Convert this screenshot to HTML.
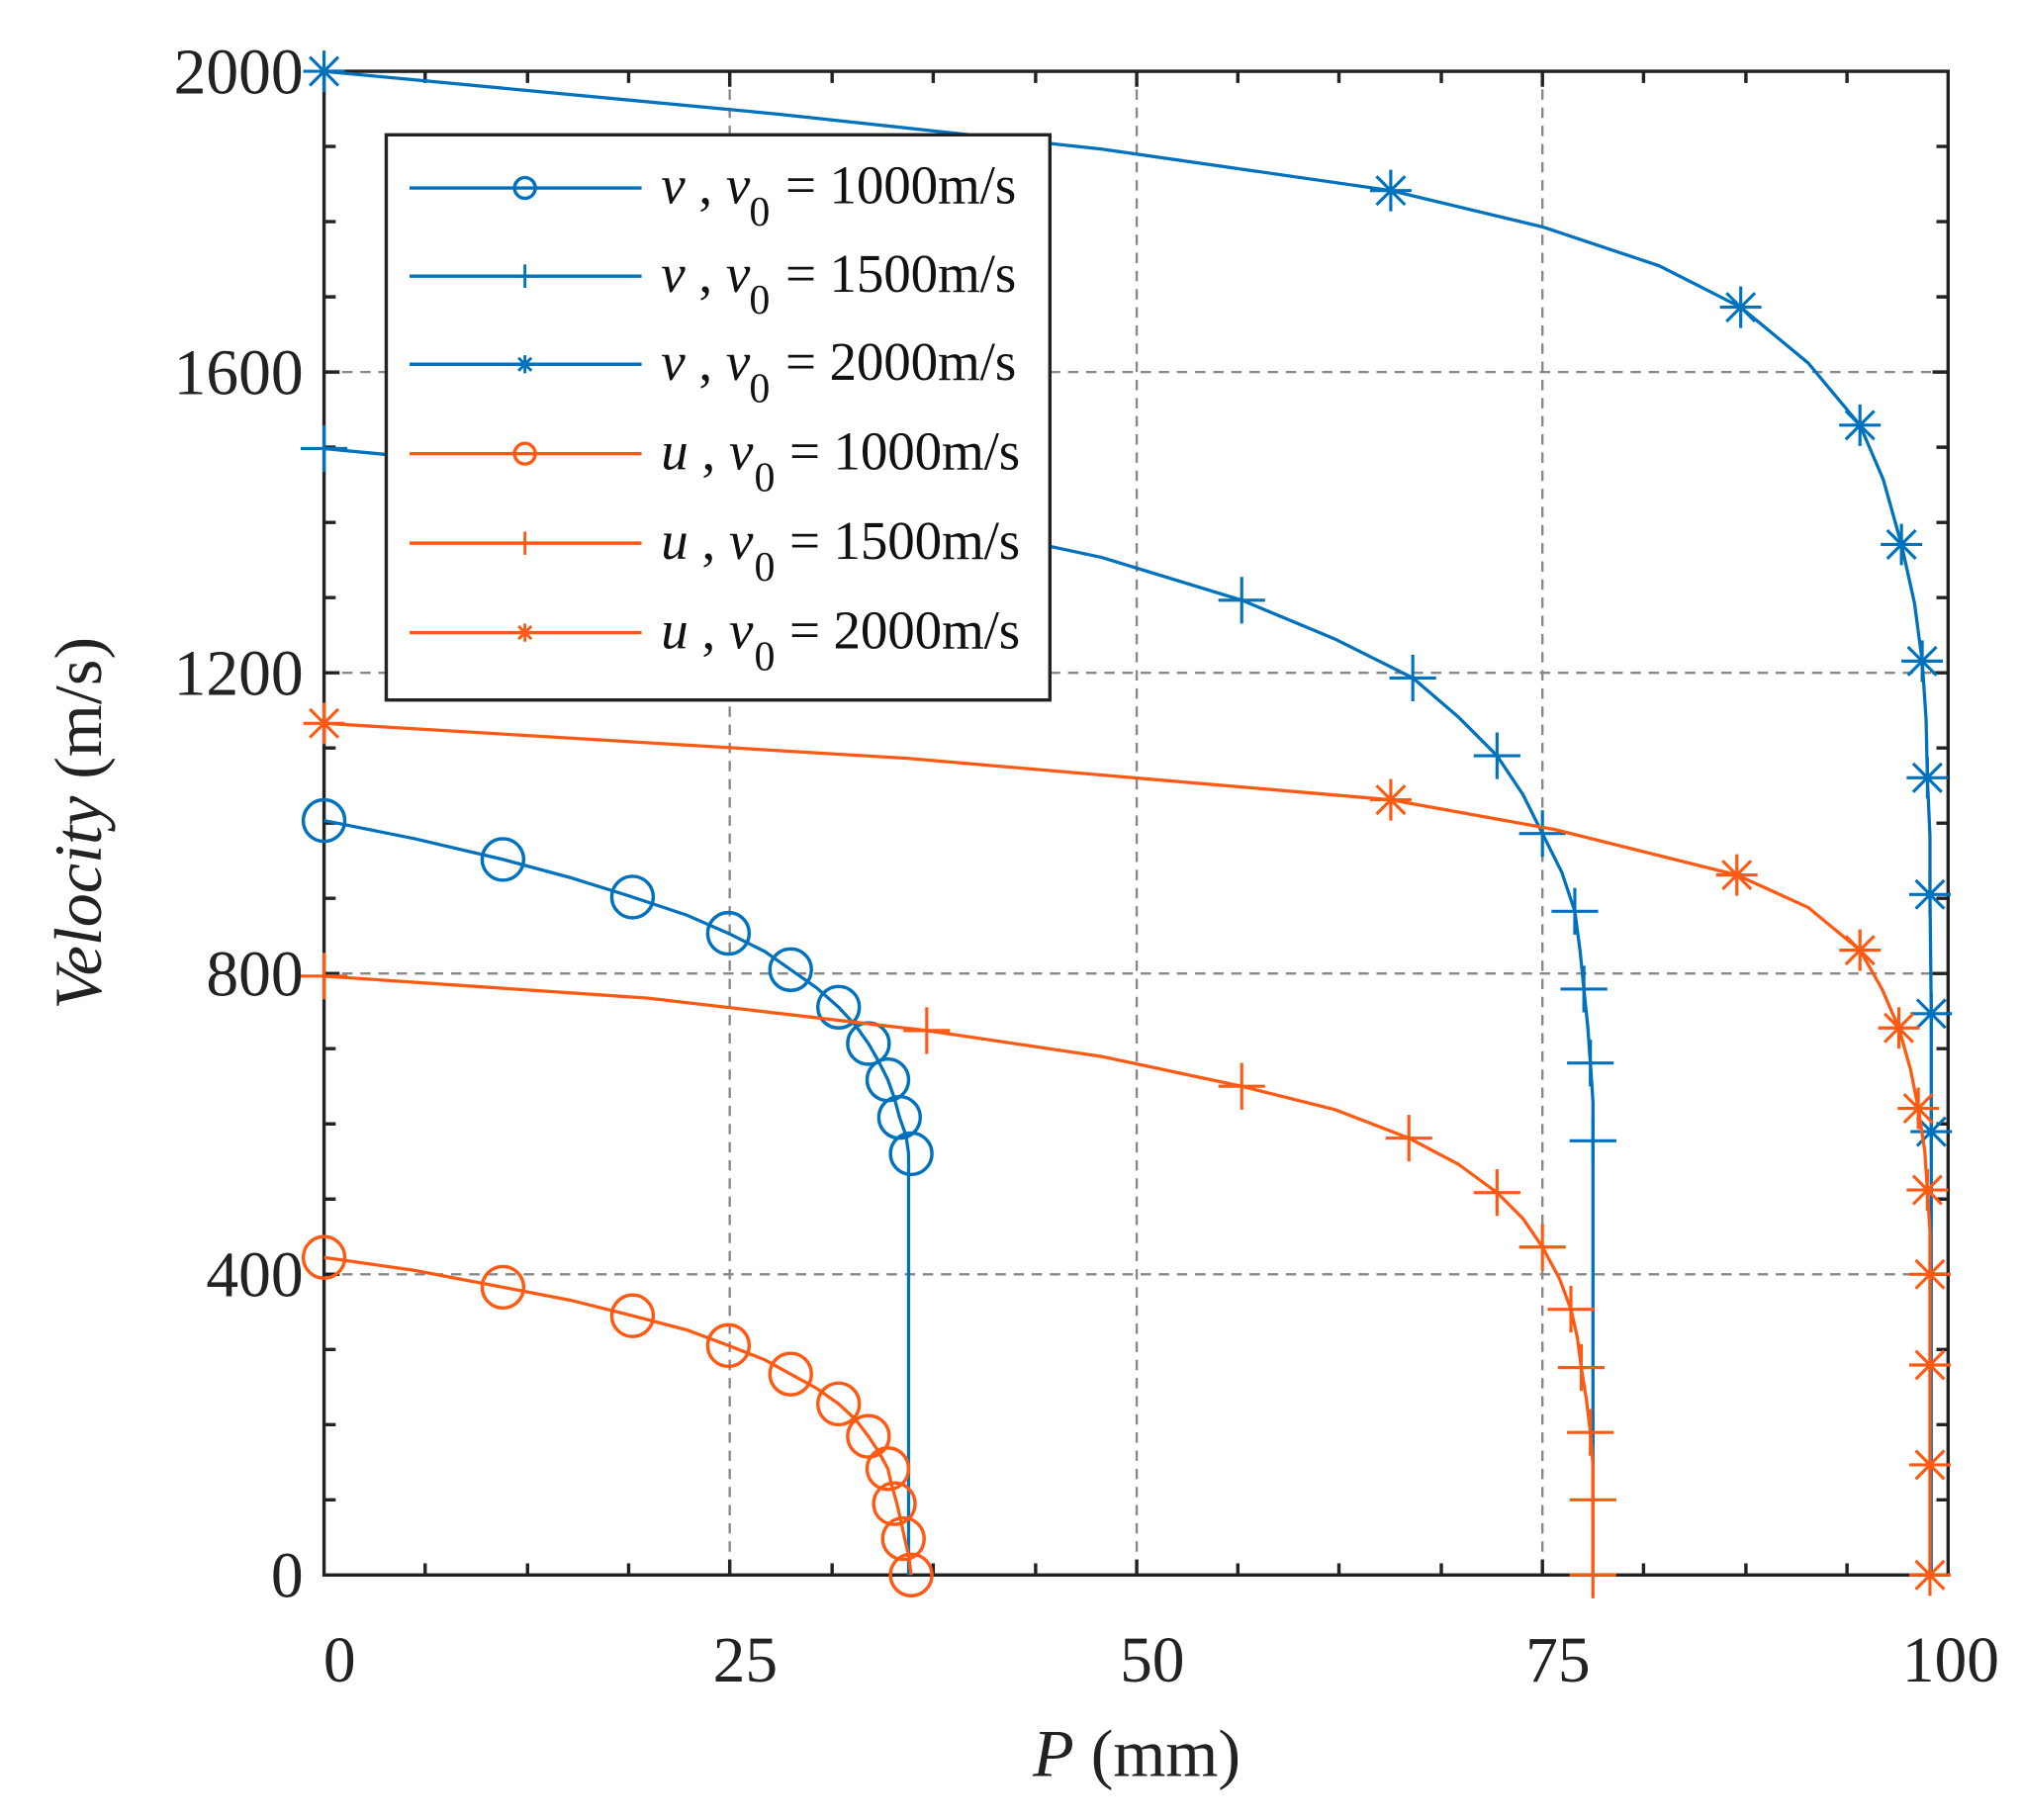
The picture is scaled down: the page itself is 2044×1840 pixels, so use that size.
<!DOCTYPE html>
<html><head><meta charset="utf-8"><style>html,body{margin:0;padding:0;background:#fff}svg{display:block}</style></head>
<body>
<svg width="2044" height="1840" viewBox="0 0 1560 1404" preserveAspectRatio="none" xmlns="http://www.w3.org/2000/svg" font-family="Liberation Serif, serif">
<defs>
<g id="ast"><path d="M-16 0H16M0-16V16M-11-11L11 11M-11 11L11-11" stroke-width="2.4"/></g>
<g id="pl"><path d="M-18 0H18M0-18V18" stroke-width="2.4"/></g>
<g id="astS"><path d="M-7 0H7M0-7V7M-5-5L5 5M-5 5L5-5" stroke-width="2.2"/></g>
<g id="plS"><path d="M-8 0H8M0-9V9" stroke-width="2.2"/></g>
</defs>
<rect width="1560" height="1404" fill="#fff"/>
<g stroke="#888" stroke-width="1.8" stroke-dasharray="8,6">
<path d="M563 55V1215M877 55V1215M1190 55V1215M250 287H1503M250 519H1503M250 751H1503M250 983H1503"/>
</g>
<g stroke="#222" stroke-width="2.6" fill="none">
<rect x="250" y="55" width="1253" height="1160"/>
<path d="M328 1215v-9M407 1215v-9M485 1215v-9M563 1215v-12M642 1215v-9M720 1215v-9M799 1215v-9M877 1215v-12M955 1215v-9M1033 1215v-9M1112 1215v-9M1190 1215v-12M1268 1215v-9M1347 1215v-9M1425 1215v-9
M328 55v9M407 55v9M485 55v9M563 55v12M642 55v9M720 55v9M799 55v9M877 55v12M955 55v9M1033 55v9M1112 55v9M1190 55v12M1268 55v9M1347 55v9M1425 55v9"/>
<path d="M250 113h9M250 171h9M250 229h9M250 287h12M250 345h9M250 403h9M250 461h9M250 519h12M250 577h9M250 635h9M250 693h9M250 751h12M250 809h9M250 867h9M250 925h9M250 983h12M250 1041h9M250 1099h9M250 1157h9
M1503 113h-9M1503 171h-9M1503 229h-9M1503 287h-12M1503 345h-9M1503 403h-9M1503 461h-9M1503 519h-12M1503 577h-9M1503 635h-9M1503 693h-9M1503 751h-12M1503 809h-9M1503 867h-9M1503 925h-9M1503 983h-12M1503 1041h-9M1503 1099h-9M1503 1157h-9"/>
</g>
<g font-size="50" fill="#222" text-anchor="end">
<text x="234" y="72">2000</text><text x="234" y="304">1600</text><text x="234" y="536">1200</text><text x="234" y="768">800</text><text x="234" y="1000">400</text><text x="234" y="1232">0</text>
</g>
<g font-size="50" fill="#222" text-anchor="middle">
<text x="262" y="1297">0</text><text x="575" y="1297">25</text><text x="889" y="1297">50</text><text x="1202" y="1297">75</text><text x="1505" y="1297">100</text>
</g>
<text x="877" y="1370" font-size="52" fill="#222" text-anchor="middle"><tspan font-style="italic">P</tspan> (mm)</text>
<text transform="translate(78,635) rotate(-90)" font-size="52" fill="#222" text-anchor="middle"><tspan font-style="italic">Velocity</tspan> (m/s)</text>

<g stroke="#0072BD" fill="none" stroke-width="2.5">
<polyline points="250,633 320,647 388,663 440,677 488,692 530,706 562,720 590,734 610,748 630,762 647,777 660,791 670,805 678,819 685,833 690,847 694,862 699,876 701,890 701,1215"/>
<g stroke-width="2.6"><circle cx="250" cy="633" r="16"/><circle cx="388" cy="663" r="16"/><circle cx="488" cy="692" r="16"/><circle cx="562" cy="720" r="16"/><circle cx="610" cy="748" r="16"/><circle cx="647" cy="777" r="16"/><circle cx="670" cy="805" r="16"/><circle cx="685" cy="833" r="16"/><circle cx="694" cy="862" r="16"/><circle cx="703" cy="890" r="16"/></g>
</g>
<g stroke="#FF5A14" fill="none" stroke-width="2.5">
<polyline points="250,970 320,980 388,993 440,1003 488,1015 530,1026 562,1038 590,1049 610,1060 630,1071 647,1083 660,1095 670,1108 678,1120 685,1133 688,1146 692,1160 695,1173 698,1187 701,1200 703,1215"/>
<g stroke-width="2.6"><circle cx="250" cy="970" r="16"/><circle cx="388" cy="993" r="16"/><circle cx="488" cy="1015" r="16"/><circle cx="562" cy="1038" r="16"/><circle cx="610" cy="1060" r="16"/><circle cx="647" cy="1083" r="16"/><circle cx="670" cy="1108" r="16"/><circle cx="685" cy="1133" r="16"/><circle cx="690" cy="1160" r="16"/><circle cx="697" cy="1187" r="16"/><circle cx="703" cy="1215" r="16"/></g>
</g>
<g stroke="#0072BD" fill="none" stroke-width="2.5">
<polyline points="250,346 500,370 700,398 850,430 958,463 1030,493 1090,523 1125,553 1155,583 1175,613 1190,643 1205,673 1215,703 1219,733 1222,763 1225,792 1227,820 1229,850 1229,880 1229,1215"/>
<use href="#pl" x="250" y="346"/><use href="#pl" x="958" y="463"/><use href="#pl" x="1090" y="523"/><use href="#pl" x="1155" y="583"/><use href="#pl" x="1190" y="643"/><use href="#pl" x="1215" y="703"/><use href="#pl" x="1222" y="763"/><use href="#pl" x="1227" y="820"/><use href="#pl" x="1229" y="880"/>
</g>
<g stroke="#FF5A14" fill="none" stroke-width="2.5">
<polyline points="250,753 500,770 715,795 850,815 958,838 1030,856 1087,878 1125,898 1155,920 1175,940 1190,962 1203,986 1212,1010 1217,1032 1220,1055 1224,1080 1227,1105 1229,1130 1229,1157 1229,1215"/>
<use href="#pl" x="250" y="753"/><use href="#pl" x="715" y="795"/><use href="#pl" x="958" y="838"/><use href="#pl" x="1087" y="878"/><use href="#pl" x="1155" y="920"/><use href="#pl" x="1190" y="962"/><use href="#pl" x="1212" y="1010"/><use href="#pl" x="1220" y="1055"/><use href="#pl" x="1227" y="1105"/><use href="#pl" x="1229" y="1157"/><use href="#pl" x="1229" y="1215"/>
</g>
<g stroke="#0072BD" fill="none" stroke-width="2.5">
<polyline points="250,55 600,88 850,115 1073,147 1190,175 1280,205 1343,237 1395,280 1435,328 1453,370 1467,420 1477,465 1483,510 1486,555 1487,600 1489,645 1489,690 1490,782 1490,873 1490,1215"/>
<use href="#ast" x="250" y="55"/><use href="#ast" x="1073" y="147"/><use href="#ast" x="1343" y="237"/><use href="#ast" x="1435" y="328"/><use href="#ast" x="1467" y="420"/><use href="#ast" x="1483" y="510"/><use href="#ast" x="1487" y="600"/><use href="#ast" x="1489" y="690"/><use href="#ast" x="1490" y="782"/><use href="#ast" x="1490" y="873"/>
</g>
<g stroke="#FF5A14" fill="none" stroke-width="2.5">
<polyline points="250,558 700,585 1073,617 1200,640 1340,675 1395,700 1435,733 1452,763 1465,793 1474,825 1480,855 1485,888 1487,918 1489,950 1489,983 1489,1215"/>
<use href="#ast" x="250" y="558"/><use href="#ast" x="1073" y="617"/><use href="#ast" x="1340" y="675"/><use href="#ast" x="1435" y="733"/><use href="#ast" x="1465" y="793"/><use href="#ast" x="1480" y="855"/><use href="#ast" x="1487" y="918"/><use href="#ast" x="1489" y="983"/><use href="#ast" x="1489" y="1053"/><use href="#ast" x="1489" y="1130"/><use href="#ast" x="1489" y="1215"/>
</g>

<rect x="298" y="104" width="512" height="436" fill="#fff" stroke="#222" stroke-width="2.6"/>
<g fill="none" stroke-width="2.6">
<g stroke="#0072BD"><path d="M316 145H495"/><circle cx="405" cy="145" r="8"/></g>
<g stroke="#0072BD"><path d="M316 213H495"/><use href="#plS" x="405" y="213"/></g>
<g stroke="#0072BD"><path d="M316 281H495"/><use href="#astS" x="405" y="281"/></g>
<g stroke="#FF5A14"><path d="M316 350H495"/><circle cx="405" cy="350" r="8"/></g>
<g stroke="#FF5A14"><path d="M316 419H495"/><use href="#plS" x="405" y="419"/></g>
<g stroke="#FF5A14"><path d="M316 488H495"/><use href="#astS" x="405" y="488"/></g>
</g>
<g font-size="42" fill="#111">
<text x="510" y="157"><tspan font-style="italic">v</tspan> , <tspan font-style="italic">v</tspan></text><text x="578" y="174" font-size="32">0</text><text x="606" y="157" textLength="178">= 1000m/s</text>
<text x="510" y="225"><tspan font-style="italic">v</tspan> , <tspan font-style="italic">v</tspan></text><text x="578" y="242" font-size="32">0</text><text x="606" y="225" textLength="178">= 1500m/s</text>
<text x="510" y="293"><tspan font-style="italic">v</tspan> , <tspan font-style="italic">v</tspan></text><text x="578" y="310" font-size="32">0</text><text x="606" y="293" textLength="178">= 2000m/s</text>
<text x="510" y="362"><tspan font-style="italic">u</tspan> , <tspan font-style="italic">v</tspan></text><text x="582" y="379" font-size="32">0</text><text x="609" y="362" textLength="178">= 1000m/s</text>
<text x="510" y="431"><tspan font-style="italic">u</tspan> , <tspan font-style="italic">v</tspan></text><text x="582" y="448" font-size="32">0</text><text x="609" y="431" textLength="178">= 1500m/s</text>
<text x="510" y="500"><tspan font-style="italic">u</tspan> , <tspan font-style="italic">v</tspan></text><text x="582" y="517" font-size="32">0</text><text x="609" y="500" textLength="178">= 2000m/s</text>
</g>
</svg>
</body></html>
